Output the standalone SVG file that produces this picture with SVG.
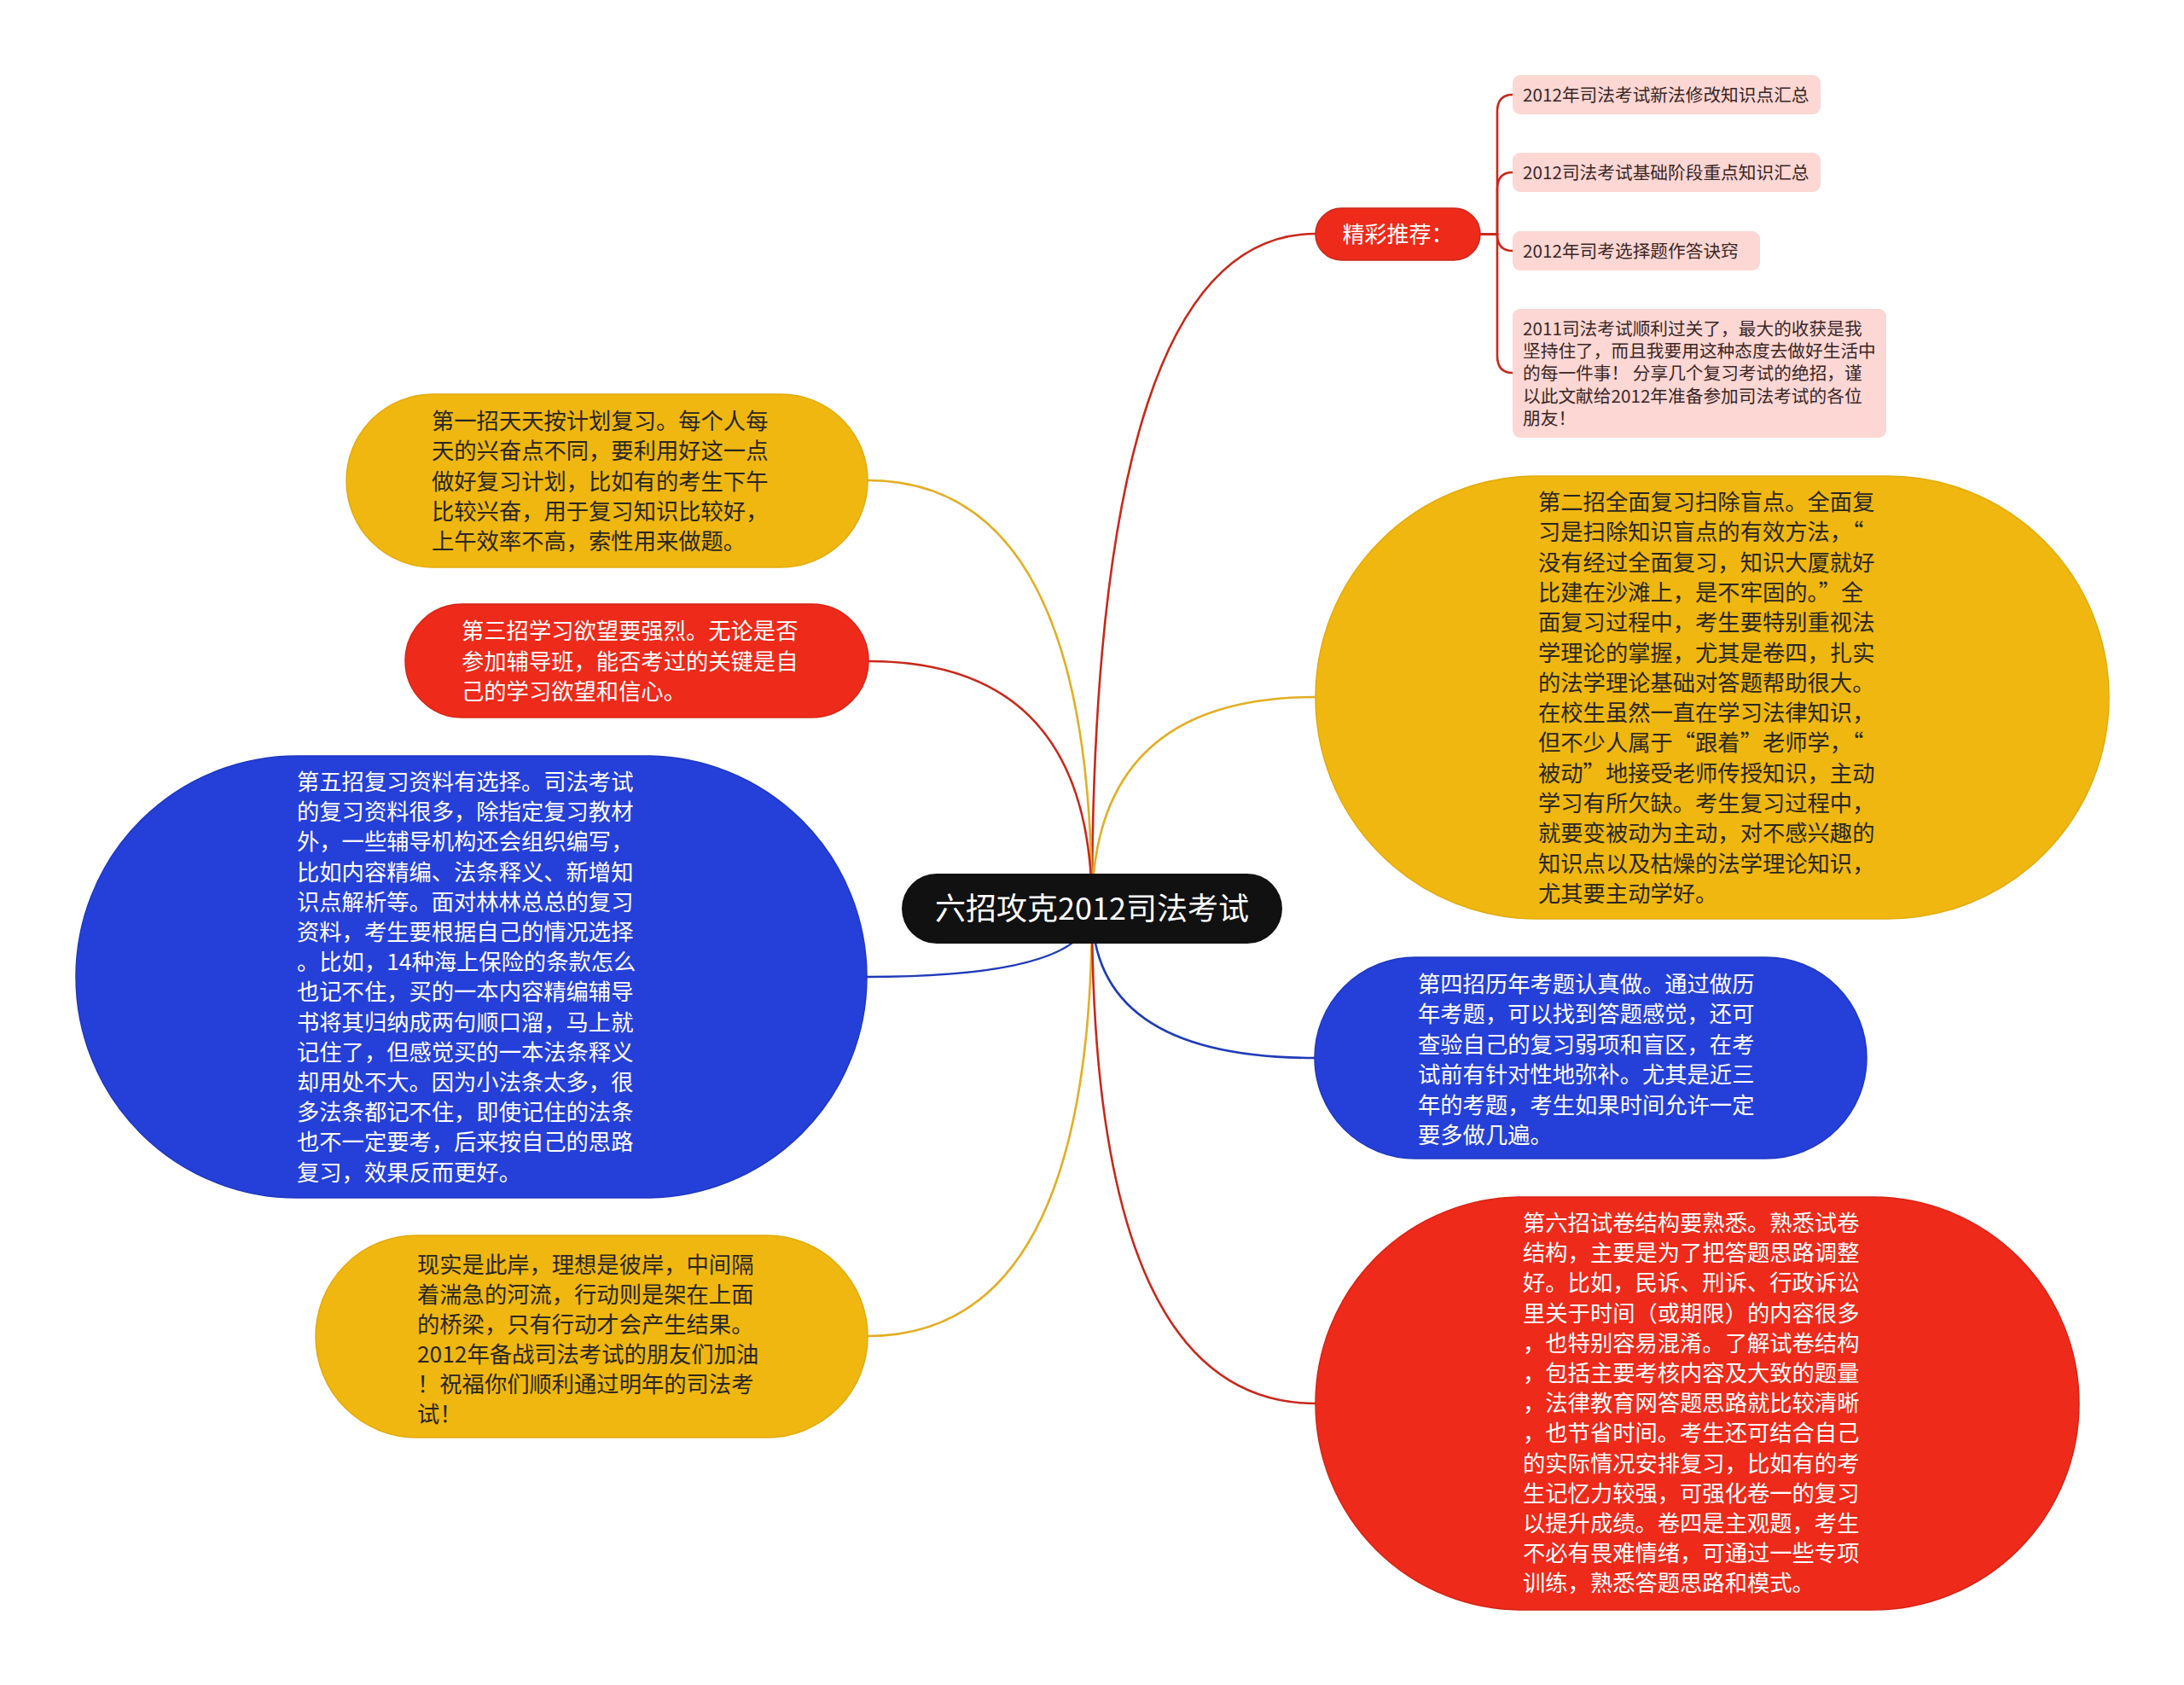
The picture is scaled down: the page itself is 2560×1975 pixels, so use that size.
<svg xmlns="http://www.w3.org/2000/svg" width="2560" height="1975" viewBox="0 0 2560 1975">
<style>
  .t { font-family: "Noto Sans CJK SC", "Noto Sans", sans-serif; }
  .body { font-size: 26.3px; }
  .dark { fill: #2a2620; }
  .light { fill: #ffffff; }
  .leaf { fill: #fcd7d3; }
  .leaftext { font-size: 20.7px; fill: #3a2626; }
  .yel { fill: #efb710; stroke: #e2ab0c; stroke-width: 1.5; }
  .red { fill: #ee2a1a; stroke: #d72416; stroke-width: 1.5; }
  .blu { fill: #2540d8; stroke: #1f37c0; stroke-width: 1.5; }
  .c { fill: none; stroke-width: 2.6; stroke-linecap: round; }
  .cy { stroke: #e2ae24; }
  .cr { stroke: #c9281b; }
  .cb { stroke: #1f3bb8; }
</style>
<rect width="2560" height="1975" fill="#ffffff"/>

<g id="connectors">
  <path class="c cr" d="M1280,1065 Q1280,274 1542,274"/>
  <path class="c cy" d="M1280,1065 Q1280,563 1017,563"/>
  <path class="c cr" d="M1280,1065 Q1280,775 1018,775"/>
  <path class="c cb" d="M1280,1065 Q1280,1145 1016,1145"/>
  <path class="c cy" d="M1280,1065 Q1280,1566 1017,1566"/>
  <path class="c cy" d="M1280,1065 Q1280,817 1542,817"/>
  <path class="c cb" d="M1280,1065 Q1280,1240 1541,1240"/>
  <path class="c cr" d="M1280,1065 Q1280,1645 1542,1645"/>
  <path class="c cr" d="M1735,274.5 H1755 V131 Q1755,111 1773,111"/>
  <path class="c cr" d="M1735,274.5 H1755 V222 Q1755,202 1773,202"/>
  <path class="c cr" d="M1735,274.5 H1755 Q1755,294 1773,294"/>
  <path class="c cr" d="M1735,274.5 H1755 V417 Q1755,437 1773,437"/>
</g>

<g id="center">
  <rect x="1057" y="1024" width="446" height="82" rx="41" fill="#111111"/>
  <text class="t light" x="1280" y="1078" font-size="36" text-anchor="middle">六招攻克2012司法考试</text>
</g>

<g id="recommend">
  <rect x="1542" y="244" width="193" height="61" rx="30.5" fill="#ee2a1a" stroke="#c9281b" stroke-width="1.5"/>
  <text class="t light" x="1638.5" y="284" font-size="26" text-anchor="middle">精彩推荐：</text>
</g>

<g id="leaf1">
  <rect class="leaf" x="1773" y="88" width="361" height="46" rx="9"/>
  <text class="t leaftext" x="1785" y="119">2012年司法考试新法修改知识点汇总</text>
</g>
<g id="leaf2">
  <rect class="leaf" x="1773" y="179" width="361" height="46" rx="9"/>
  <text class="t leaftext" x="1785" y="210">2012司法考试基础阶段重点知识汇总</text>
</g>
<g id="leaf3">
  <rect class="leaf" x="1773" y="271" width="290" height="46" rx="9"/>
  <text class="t leaftext" x="1785" y="302">2012年司考选择题作答诀窍</text>
</g>
<g id="leaf4">
  <rect class="leaf" x="1773" y="362" width="438" height="151" rx="9"/>
  <text class="t leaftext">
    <tspan x="1785" y="393">2011司法考试顺利过关了，最大的收获是我</tspan>
    <tspan x="1785" y="419.2">坚持住了，而且我要用这种态度去做好生活中</tspan>
    <tspan x="1785" y="445.4">的每一件事！ 分享几个复习考试的绝招，谨</tspan>
    <tspan x="1785" y="471.6">以此文献给2012年准备参加司法考试的各位</tspan>
    <tspan x="1785" y="497.8">朋友！</tspan>
  </text>
</g>

<g id="node1">
  <rect class="yel" x="406" y="462" width="611" height="203" rx="101.5"/>
  <text class="t body dark">
    <tspan x="506" y="503">第一招天天按计划复习。每个人每</tspan>
    <tspan x="506" y="538.3">天的兴奋点不同，要利用好这一点</tspan>
    <tspan x="506" y="573.6">做好复习计划，比如有的考生下午</tspan>
    <tspan x="506" y="608.9">比较兴奋，用于复习知识比较好，</tspan>
    <tspan x="506" y="644.2">上午效率不高，索性用来做题。</tspan>
  </text>
</g>

<g id="node3">
  <rect class="red" x="475" y="708" width="543" height="133" rx="66.5"/>
  <text class="t body light">
    <tspan x="541" y="749.2">第三招学习欲望要强烈。无论是否</tspan>
    <tspan x="541" y="784.5">参加辅导班，能否考过的关键是自</tspan>
    <tspan x="541" y="819.8">己的学习欲望和信心。</tspan>
  </text>
</g>

<g id="node5">
  <rect class="blu" x="89" y="886" width="927" height="518" rx="259"/>
  <text class="t body light">
    <tspan x="348" y="926">第五招复习资料有选择。司法考试</tspan>
    <tspan x="348" y="961.2">的复习资料很多，除指定复习教材</tspan>
    <tspan x="348" y="996.4">外，一些辅导机构还会组织编写，</tspan>
    <tspan x="348" y="1031.6">比如内容精编、法条释义、新增知</tspan>
    <tspan x="348" y="1066.8">识点解析等。面对林林总总的复习</tspan>
    <tspan x="348" y="1102">资料，考生要根据自己的情况选择</tspan>
    <tspan x="348" y="1137.2">。比如，14种海上保险的条款怎么</tspan>
    <tspan x="348" y="1172.4">也记不住，买的一本内容精编辅导</tspan>
    <tspan x="348" y="1207.6">书将其归纳成两句顺口溜，马上就</tspan>
    <tspan x="348" y="1242.8">记住了，但感觉买的一本法条释义</tspan>
    <tspan x="348" y="1278">却用处不大。因为小法条太多，很</tspan>
    <tspan x="348" y="1313.2">多法条都记不住，即使记住的法条</tspan>
    <tspan x="348" y="1348.4">也不一定要考，后来按自己的思路</tspan>
    <tspan x="348" y="1383.6">复习，效果反而更好。</tspan>
  </text>
</g>

<g id="node7">
  <rect class="yel" x="370" y="1448" width="647" height="237" rx="118.5"/>
  <text class="t body dark">
    <tspan x="489" y="1492">现实是此岸，理想是彼岸，中间隔</tspan>
    <tspan x="489" y="1527">着湍急的河流，行动则是架在上面</tspan>
    <tspan x="489" y="1562">的桥梁，只有行动才会产生结果。</tspan>
    <tspan x="489" y="1597">2012年备战司法考试的朋友们加油</tspan>
    <tspan x="489" y="1632">！祝福你们顺利通过明年的司法考</tspan>
    <tspan x="489" y="1667">试！</tspan>
  </text>
</g>

<g id="node2">
  <rect class="yel" x="1542" y="558" width="930" height="519" rx="259.5"/>
  <text class="t body dark">
    <tspan x="1803" y="598">第二招全面复习扫除盲点。全面复</tspan>
    <tspan x="1803" y="633.3">习是扫除知识盲点的有效方法，“</tspan>
    <tspan x="1803" y="668.6">没有经过全面复习，知识大厦就好</tspan>
    <tspan x="1803" y="703.9">比建在沙滩上，是不牢固的。”全</tspan>
    <tspan x="1803" y="739.2">面复习过程中，考生要特别重视法</tspan>
    <tspan x="1803" y="774.5">学理论的掌握，尤其是卷四，扎实</tspan>
    <tspan x="1803" y="809.8">的法学理论基础对答题帮助很大。</tspan>
    <tspan x="1803" y="845.1">在校生虽然一直在学习法律知识，</tspan>
    <tspan x="1803" y="880.4">但不少人属于“跟着”老师学，“</tspan>
    <tspan x="1803" y="915.7">被动”地接受老师传授知识，主动</tspan>
    <tspan x="1803" y="951">学习有所欠缺。考生复习过程中，</tspan>
    <tspan x="1803" y="986.3">就要变被动为主动，对不感兴趣的</tspan>
    <tspan x="1803" y="1021.6">知识点以及枯燥的法学理论知识，</tspan>
    <tspan x="1803" y="1056.9">尤其要主动学好。</tspan>
  </text>
</g>

<g id="node4">
  <rect class="blu" x="1541" y="1122" width="647" height="236" rx="118"/>
  <text class="t body light">
    <tspan x="1662" y="1163">第四招历年考题认真做。通过做历</tspan>
    <tspan x="1662" y="1198.4">年考题，可以找到答题感觉，还可</tspan>
    <tspan x="1662" y="1233.8">查验自己的复习弱项和盲区，在考</tspan>
    <tspan x="1662" y="1269.2">试前有针对性地弥补。尤其是近三</tspan>
    <tspan x="1662" y="1304.6">年的考题，考生如果时间允许一定</tspan>
    <tspan x="1662" y="1340">要多做几遍。</tspan>
  </text>
</g>

<g id="node6">
  <rect class="red" x="1542" y="1403" width="895" height="484" rx="242"/>
  <text class="t body light">
    <tspan x="1785" y="1443">第六招试卷结构要熟悉。熟悉试卷</tspan>
    <tspan x="1785" y="1478.2">结构，主要是为了把答题思路调整</tspan>
    <tspan x="1785" y="1513.4">好。比如，民诉、刑诉、行政诉讼</tspan>
    <tspan x="1785" y="1548.6">里关于时间（或期限）的内容很多</tspan>
    <tspan x="1785" y="1583.8">，也特别容易混淆。了解试卷结构</tspan>
    <tspan x="1785" y="1619">，包括主要考核内容及大致的题量</tspan>
    <tspan x="1785" y="1654.2">，法律教育网答题思路就比较清晰</tspan>
    <tspan x="1785" y="1689.4">，也节省时间。考生还可结合自己</tspan>
    <tspan x="1785" y="1724.6">的实际情况安排复习，比如有的考</tspan>
    <tspan x="1785" y="1759.8">生记忆力较强，可强化卷一的复习</tspan>
    <tspan x="1785" y="1795">以提升成绩。卷四是主观题，考生</tspan>
    <tspan x="1785" y="1830.2">不必有畏难情绪，可通过一些专项</tspan>
    <tspan x="1785" y="1865.4">训练，熟悉答题思路和模式。</tspan>
  </text>
</g>
</svg>
